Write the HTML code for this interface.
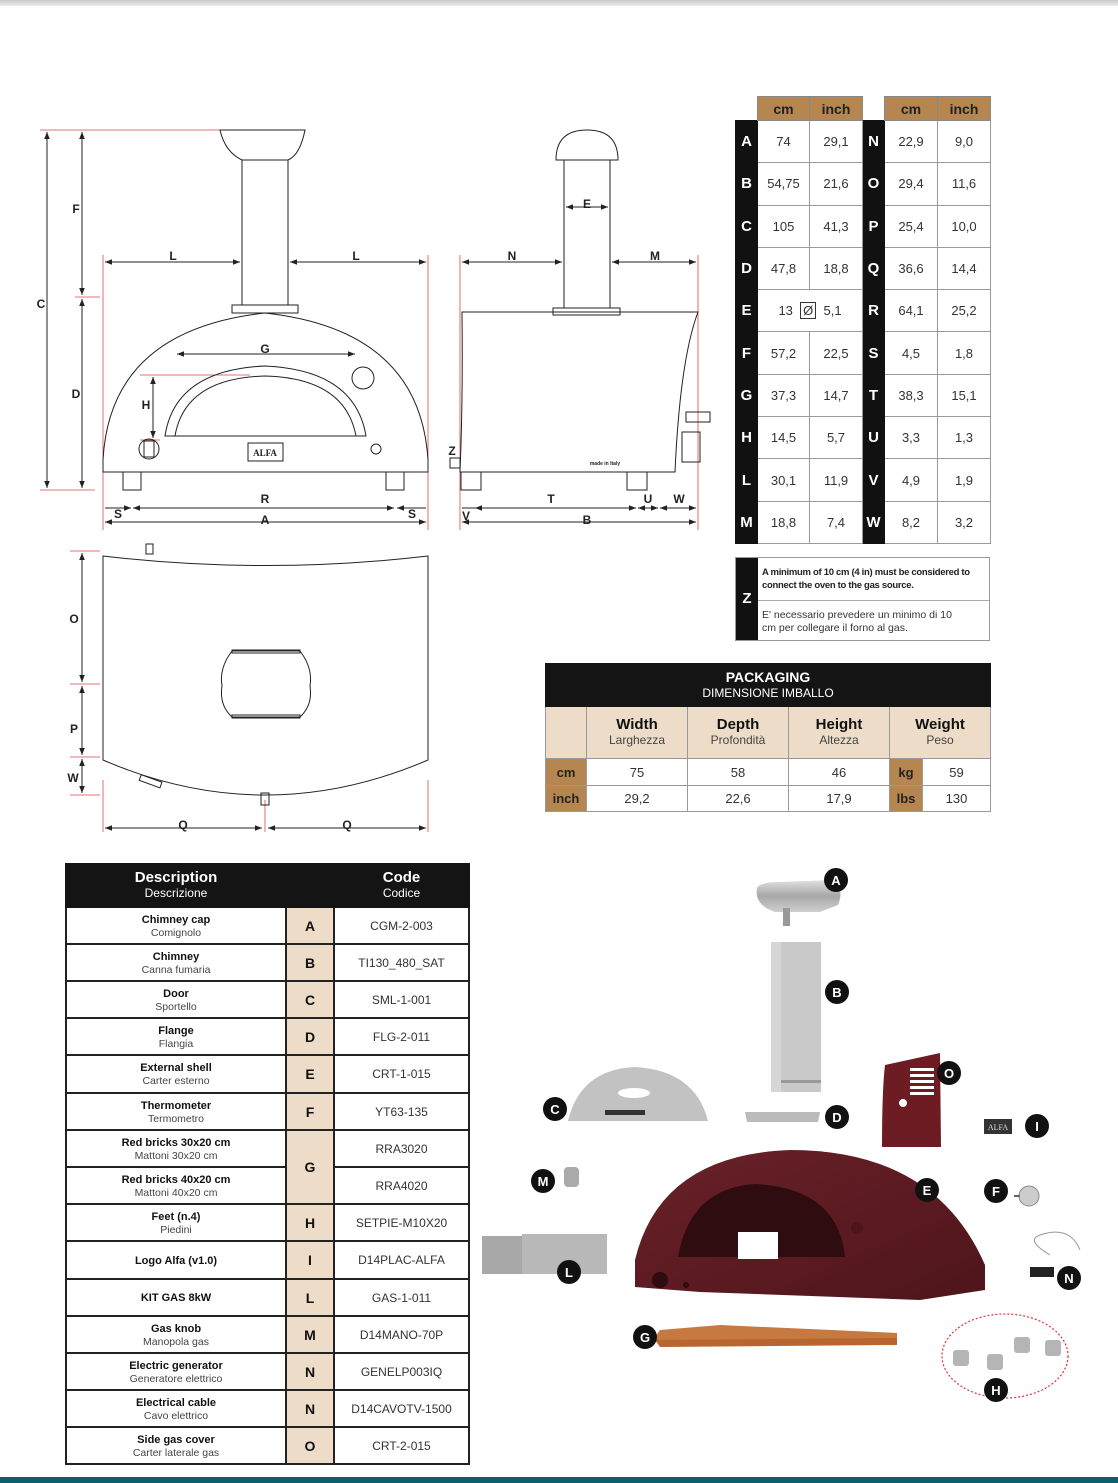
<!DOCTYPE html>
<html><head><meta charset="utf-8"><style>
*{margin:0;padding:0;box-sizing:border-box}
body{width:1118px;height:1483px;background:#fff;position:relative;overflow:hidden;font-family:"Liberation Sans","DejaVu Sans",sans-serif;color:#333}
.abs{position:absolute}
table{border-collapse:collapse;position:absolute;table-layout:fixed}
td{text-align:center;vertical-align:middle}
#dim td{border:1px solid #9a9a9a;font-size:13px;color:#333}
#dim td.l{background:#111;color:#fff;font-weight:bold;font-size:15px;border-color:#111}
#dim td.h{background:#b58650;color:#222;font-weight:bold;font-size:14px;border-color:#888}
#dim td.e{border:none;background:#fff}
#pk td{border:1px solid #999;font-size:13px}
#pk td.t{background:#141414;color:#fff;border-color:#141414;font-size:12px;line-height:15px}
#pk td.b{background:#ecdcc8;font-size:12px;color:#444;line-height:15px}
#pk td.b b{font-size:15px;color:#111}
#pk td.u{background:#b58650;font-weight:bold;color:#222}
#pt td{border:2px solid #222;font-size:12px;color:#333;line-height:12px}
#pt td.d b{font-size:11px;color:#111}
#pt td.d span{font-size:10.5px;color:#444}
#pt td.k{background:#ecdcc8;font-weight:bold;font-size:14px;color:#111}
#pt td.hd{background:#141414;color:#fff;border-color:#141414;font-size:12px;line-height:15px}
#pt td.hd b{font-size:15px}
</style></head><body>
<div class="abs" style="left:0;top:0;width:1118px;height:6px;background:linear-gradient(#c8c8cc,#eee)"></div>
<div class="abs" style="left:0;top:1477px;width:1118px;height:6px;background:#0f5d6a"></div>

<svg class="abs" style="left:0;top:0" width="1118" height="1483" viewBox="0 0 1118 1483">
<defs>
<marker id="a" viewBox="0 0 10 10" refX="10" refY="5" markerWidth="7" markerHeight="7" orient="auto-start-reverse"><path d="M0,1L10,5L0,9z" fill="#222"/></marker>
<linearGradient id="sh" x1="0" y1="0" x2="1" y2="1"><stop offset="0" stop-color="#6a2128"/><stop offset="1" stop-color="#4e151b"/></linearGradient>
<linearGradient id="cap" x1="0" y1="0" x2="0" y2="1"><stop offset="0" stop-color="#e0e0e0"/><stop offset="0.5" stop-color="#a8a8aa"/><stop offset="1" stop-color="#cfcfcf"/></linearGradient>
</defs>
<g stroke="#d44" stroke-width="0.8" fill="none">
<line x1="40" y1="130" x2="300" y2="130"/><line x1="40" y1="490" x2="95" y2="490"/><line x1="75" y1="297" x2="100" y2="297"/>
<line x1="103" y1="255" x2="103" y2="530"/><line x1="428" y1="255" x2="428" y2="530"/>
<line x1="460" y1="255" x2="460" y2="530"/><line x1="698" y1="255" x2="698" y2="530"/>
<line x1="140" y1="375" x2="250" y2="375"/><line x1="140" y1="440" x2="160" y2="440"/>
<line x1="103" y1="780" x2="103" y2="832"/><line x1="428" y1="780" x2="428" y2="832"/><line x1="265" y1="800" x2="265" y2="832"/>
<line x1="70" y1="551" x2="100" y2="551"/><line x1="70" y1="684" x2="100" y2="684"/><line x1="70" y1="757" x2="100" y2="757"/><line x1="70" y1="795" x2="100" y2="795"/>
</g>
<g stroke="#222" stroke-width="1" fill="none">
<path d="M220,130 L305,130 Q300,155 288,160 L242,160 Q225,152 220,130Z"/>
<rect x="242" y="160" width="46" height="145"/>
<rect x="232" y="305" width="66" height="8"/>
<path d="M103,472 L103,460 Q110,330 265,313 Q420,330 428,460 L428,472 Z"/>
<path d="M165,436 Q175,370 265,366 Q355,370 366,436 Z"/><path d="M175,436 Q185,378 265,376 Q345,378 356,436"/>
<circle cx="363" cy="378" r="11"/><circle cx="149" cy="449" r="10"/><rect x="144" y="441" width="10" height="16"/>
<rect x="248" y="443" width="35" height="18"/><circle cx="376" cy="449" r="5"/>
<rect x="123" y="472" width="18" height="18"/><rect x="386" y="472" width="18" height="18"/>
<line x1="47" y1="132" x2="47" y2="488" marker-start="url(#a)" marker-end="url(#a)"/>
<line x1="82" y1="132" x2="82" y2="295" marker-start="url(#a)" marker-end="url(#a)"/>
<line x1="82" y1="299" x2="82" y2="488" marker-start="url(#a)" marker-end="url(#a)"/>
<line x1="105" y1="262" x2="240" y2="262" marker-start="url(#a)" marker-end="url(#a)"/>
<line x1="290" y1="262" x2="426" y2="262" marker-start="url(#a)" marker-end="url(#a)"/>
<line x1="177" y1="354" x2="355" y2="354" marker-start="url(#a)" marker-end="url(#a)"/>
<line x1="153" y1="377" x2="153" y2="438" marker-start="url(#a)" marker-end="url(#a)"/>
<line x1="105" y1="508" x2="131" y2="508" marker-end="url(#a)"/>
<line x1="133" y1="508" x2="394" y2="508" marker-start="url(#a)" marker-end="url(#a)"/>
<line x1="397" y1="508" x2="426" y2="508" marker-start="url(#a)"/>
<line x1="105" y1="522" x2="426" y2="522" marker-start="url(#a)" marker-end="url(#a)"/>
<path d="M556,160 Q556,130 587,130 Q618,130 618,160 Z"/>
<rect x="564" y="160" width="46" height="148"/><rect x="553" y="308" width="67" height="7"/>
<path d="M462,312 L698,312 Q680,360 675,472 L460,472 Q463,400 462,312Z"/>
<rect x="686" y="412" width="24" height="10"/><rect x="682" y="432" width="18" height="30"/>
<rect x="450" y="458" width="10" height="10"/>
<rect x="461" y="472" width="20" height="18"/><rect x="627" y="472" width="20" height="18"/>
<line x1="462" y1="262" x2="562" y2="262" marker-start="url(#a)" marker-end="url(#a)"/>
<line x1="612" y1="262" x2="696" y2="262" marker-start="url(#a)" marker-end="url(#a)"/>
<line x1="566" y1="207" x2="608" y2="207" marker-start="url(#a)" marker-end="url(#a)"/>
<line x1="462" y1="508" x2="475" y2="508"/>
<line x1="475" y1="508" x2="636" y2="508" marker-start="url(#a)" marker-end="url(#a)"/>
<line x1="638" y1="508" x2="658" y2="508" marker-start="url(#a)" marker-end="url(#a)"/>
<line x1="660" y1="508" x2="696" y2="508" marker-start="url(#a)" marker-end="url(#a)"/>
<line x1="462" y1="522" x2="696" y2="522" marker-start="url(#a)" marker-end="url(#a)"/>
<path d="M103,556 Q265,575 428,556 L428,760 Q265,830 103,760 Z"/>
<rect x="146" y="544" width="7" height="10"/>
<path d="M232,651 L300,651 Q313,668 310,686 Q313,705 300,717 L232,717 Q219,705 222,686 Q219,668 232,651Z"/>
<rect x="232" y="650" width="68" height="3"/><rect x="232" y="715" width="68" height="3"/>
<rect x="261" y="793" width="8" height="12"/>
<rect x="140" y="778" width="22" height="6" transform="rotate(20 150 780)"/>
<line x1="82" y1="553" x2="82" y2="682" marker-start="url(#a)" marker-end="url(#a)"/>
<line x1="82" y1="686" x2="82" y2="755" marker-start="url(#a)" marker-end="url(#a)"/>
<line x1="82" y1="759" x2="82" y2="793" marker-start="url(#a)" marker-end="url(#a)"/>
<line x1="105" y1="828" x2="262" y2="828" marker-start="url(#a)" marker-end="url(#a)"/>
<line x1="268" y1="828" x2="426" y2="828" marker-start="url(#a)" marker-end="url(#a)"/>
</g>
<g font-family="Liberation Sans,sans-serif" font-size="12" font-weight="bold" fill="#222" text-anchor="middle">
<text x="41" y="308">C</text><text x="76" y="213">F</text><text x="76" y="398">D</text>
<text x="173" y="260">L</text><text x="356" y="260">L</text><text x="265" y="353">G</text><text x="146" y="409">H</text>
<text x="265" y="503">R</text><text x="265" y="524">A</text><text x="118" y="518">S</text><text x="412" y="518">S</text>
<text x="512" y="260">N</text><text x="655" y="260">M</text><text x="587" y="208">E</text>
<text x="551" y="503">T</text><text x="648" y="503">U</text><text x="679" y="503">W</text><text x="466" y="520">V</text><text x="587" y="524">B</text><text x="452" y="455">Z</text>
<text x="74" y="623">O</text><text x="74" y="733">P</text><text x="73" y="782">W</text><text x="183" y="829">Q</text><text x="347" y="829">Q</text>
<text x="265" y="456" font-size="9" font-family="Liberation Serif,serif">ALFA</text>
<text x="605" y="465" font-size="5">made in Italy</text>
</g>

<path d="M757,888 Q760,882 780,882 L832,880 Q845,888 838,905 L820,912 L775,912 Q754,905 757,888Z" fill="url(#cap)"/>
<rect x="783" y="908" width="7" height="18" fill="#999"/>
<rect x="771" y="942" width="50" height="150" fill="#c9c9c9"/><rect x="771" y="1080" width="50" height="3" fill="#999"/><rect x="771" y="942" width="10" height="150" fill="#d6d6d6"/>
<path d="M745,1112 L820,1112 L818,1122 L747,1122Z" fill="#bbb"/>
<path d="M568,1121 Q580,1070 634,1067 Q695,1070 708,1121Z" fill="#c2c2c2"/><ellipse cx="634" cy="1093" rx="16" ry="5" fill="#fff"/><rect x="605" y="1110" width="40" height="5" fill="#333"/>
<path d="M885,1065 L940,1053 L941,1147 L882,1147 Q882,1090 885,1065Z" fill="#6e1c24"/>
<g fill="#fff"><rect x="910" y="1068" width="24" height="3"/><rect x="910" y="1074" width="24" height="3"/><rect x="910" y="1080" width="24" height="3"/><rect x="910" y="1086" width="24" height="3"/><rect x="910" y="1092" width="24" height="3"/><circle cx="903" cy="1103" r="4"/></g>
<rect x="984" y="1119" width="28" height="15" fill="#333"/><text x="998" y="1130" fill="#ddd" font-size="8" font-family="Liberation Serif,serif" text-anchor="middle">ALFA</text>
<path d="M635,1287 L635,1260 Q660,1155 790,1150 Q935,1150 985,1265 L985,1290 L920,1300 L700,1292Z" fill="url(#sh)"/>
<path d="M678,1257 Q690,1188 755,1184 Q838,1188 845,1257Z" fill="#2e0c10"/><rect x="738" y="1232" width="40" height="27" fill="#fff"/>
<circle cx="660" cy="1280" r="8" fill="#2e0c10"/><circle cx="686" cy="1285" r="3" fill="#2e0c10"/><circle cx="857" cy="1228" r="6" fill="#4e1419"/>
<path d="M660,1330 L720,1325 L897,1333 L897,1343 L660,1345 L655,1337Z" fill="#c67a40"/><path d="M655,1340 L897,1338 L897,1345 L660,1347Z" fill="#b8652f"/>
<rect x="564" y="1167" width="15" height="20" rx="4" fill="#aaa"/>
<rect x="482" y="1236" width="48" height="38" fill="#a8a8a8"/><rect x="522" y="1234" width="85" height="40" fill="#b8b8b8"/>
<circle cx="1029" cy="1196" r="10" fill="#ccc" stroke="#888"/><line x1="1014" y1="1196" x2="1020" y2="1196" stroke="#666" stroke-width="2"/>
<path d="M1050,1255 Q1025,1240 1040,1235 Q1070,1225 1080,1250" stroke="#999" fill="none"/><rect x="1030" y="1267" width="24" height="10" fill="#222"/>
<ellipse cx="1005" cy="1356" rx="63" ry="42" fill="none" stroke="#d33" stroke-width="1.2" stroke-dasharray="2,2"/>
<g fill="#b5b5b5"><rect x="953" y="1350" width="16" height="16" rx="3"/><rect x="987" y="1354" width="16" height="16" rx="3"/><rect x="1014" y="1337" width="16" height="16" rx="3"/><rect x="1045" y="1340" width="16" height="16" rx="3"/></g>
<g fill="#111"><circle cx="836" cy="880" r="12"/><circle cx="837" cy="992" r="12"/><circle cx="555" cy="1109" r="12"/><circle cx="837" cy="1117" r="12"/><circle cx="949" cy="1073" r="12"/><circle cx="1037" cy="1126" r="12"/><circle cx="927" cy="1190" r="12"/><circle cx="996" cy="1191" r="12"/><circle cx="543" cy="1181" r="12"/><circle cx="569" cy="1272" r="12"/><circle cx="1069" cy="1278" r="12"/><circle cx="645" cy="1337" r="12"/><circle cx="996" cy="1390" r="12"/></g>
<g fill="#fff" font-size="13" font-weight="bold" text-anchor="middle" font-family="Liberation Sans,sans-serif">
<text x="836" y="885">A</text><text x="837" y="997">B</text><text x="555" y="1114">C</text><text x="837" y="1122">D</text><text x="949" y="1078">O</text><text x="1037" y="1131">I</text><text x="927" y="1195">E</text><text x="996" y="1196">F</text><text x="543" y="1186">M</text><text x="569" y="1277">L</text><text x="1069" y="1283">N</text><text x="645" y="1342">G</text><text x="996" y="1395">H</text></g>
</svg>

<table id="dim" style="left:735px;top:96px;width:255px">
<colgroup><col style="width:22px"><col style="width:52px"><col style="width:53px"><col style="width:22px"><col style="width:53px"><col style="width:53px"></colgroup>
<tr style="height:24px"><td class="e"></td><td class="h">cm</td><td class="h">inch</td><td class="e"></td><td class="h">cm</td><td class="h">inch</td></tr>
<tr style="height:42.3px"><td class="l">A</td><td>74</td><td>29,1</td><td class="l">N</td><td>22,9</td><td>9,0</td></tr>
<tr style="height:42.3px"><td class="l">B</td><td>54,75</td><td>21,6</td><td class="l">O</td><td>29,4</td><td>11,6</td></tr>
<tr style="height:42.3px"><td class="l">C</td><td>105</td><td>41,3</td><td class="l">P</td><td>25,4</td><td>10,0</td></tr>
<tr style="height:42.3px"><td class="l">D</td><td>47,8</td><td>18,8</td><td class="l">Q</td><td>36,6</td><td>14,4</td></tr>
<tr style="height:42.3px"><td class="l">E</td><td colspan="2">13 &nbsp;<span style="border:1px solid #333;padding:0 2px">Ø</span>&nbsp; 5,1</td><td class="l">R</td><td>64,1</td><td>25,2</td></tr>
<tr style="height:42.3px"><td class="l">F</td><td>57,2</td><td>22,5</td><td class="l">S</td><td>4,5</td><td>1,8</td></tr>
<tr style="height:42.3px"><td class="l">G</td><td>37,3</td><td>14,7</td><td class="l">T</td><td>38,3</td><td>15,1</td></tr>
<tr style="height:42.3px"><td class="l">H</td><td>14,5</td><td>5,7</td><td class="l">U</td><td>3,3</td><td>1,3</td></tr>
<tr style="height:42.3px"><td class="l">L</td><td>30,1</td><td>11,9</td><td class="l">V</td><td>4,9</td><td>1,9</td></tr>
<tr style="height:42.3px"><td class="l">M</td><td>18,8</td><td>7,4</td><td class="l">W</td><td>8,2</td><td>3,2</td></tr>
</table>

<div class="abs" style="left:735px;top:557px;width:255px;height:84px;border:1px solid #999">
<div class="abs" style="left:0;top:0;width:22px;height:82px;background:#111;color:#fff;font-weight:bold;font-size:15px;text-align:center;line-height:82px">Z</div>
<div class="abs" style="left:26px;top:8px;width:228px;font-size:9.5px;font-weight:bold;letter-spacing:-0.3px;line-height:13px;color:#222">A minimum of 10 cm (4 in) must be considered to connect the oven to the gas source.</div>
<div class="abs" style="left:22px;top:42px;width:231px;border-top:1px solid #aaa"></div>
<div class="abs" style="left:26px;top:51px;width:200px;font-size:10.5px;line-height:13px;color:#333">E' necessario prevedere un minimo di 10 cm per collegare il forno al gas.</div>
</div>

<table id="pk" style="left:545px;top:663px;width:445px">
<colgroup><col style="width:41px"><col style="width:101px"><col style="width:101px"><col style="width:101px"><col style="width:33px"><col style="width:68px"></colgroup>
<tr style="height:43px"><td class="t" colspan="6"><b style="font-size:14px">PACKAGING</b><br>DIMENSIONE IMBALLO</td></tr>
<tr style="height:52px"><td class="b"></td><td class="b"><b>Width</b><br>Larghezza</td><td class="b"><b>Depth</b><br>Profondità</td><td class="b"><b>Height</b><br>Altezza</td><td class="b" colspan="2"><b>Weight</b><br>Peso</td></tr>
<tr style="height:27px"><td class="u">cm</td><td>75</td><td>58</td><td>46</td><td class="u">kg</td><td>59</td></tr>
<tr style="height:26px"><td class="u">inch</td><td>29,2</td><td>22,6</td><td>17,9</td><td class="u">lbs</td><td>130</td></tr>
</table>

<table id="pt" style="left:65px;top:863px;width:403px">
<colgroup><col style="width:220px"><col style="width:48px"><col style="width:135px"></colgroup>
<tr style="height:43px"><td class="hd"><b>Description</b><br>Descrizione</td><td class="hd"></td><td class="hd"><b>Code</b><br>Codice</td></tr>
<tr style="height:37px"><td class="d"><b>Chimney cap</b><br><span>Comignolo</span></td><td class="k">A</td><td>CGM-2-003</td></tr>
<tr style="height:37px"><td class="d"><b>Chimney</b><br><span>Canna fumaria</span></td><td class="k">B</td><td>TI130_480_SAT</td></tr>
<tr style="height:37px"><td class="d"><b>Door</b><br><span>Sportello</span></td><td class="k">C</td><td>SML-1-001</td></tr>
<tr style="height:37px"><td class="d"><b>Flange</b><br><span>Flangia</span></td><td class="k">D</td><td>FLG-2-011</td></tr>
<tr style="height:38px"><td class="d"><b>External shell</b><br><span>Carter esterno</span></td><td class="k">E</td><td>CRT-1-015</td></tr>
<tr style="height:37px"><td class="d"><b>Thermometer</b><br><span>Termometro</span></td><td class="k">F</td><td>YT63-135</td></tr>
<tr style="height:37px"><td class="d"><b>Red bricks 30x20 cm</b><br><span>Mattoni 30x20 cm</span></td><td class="k" rowspan="2">G</td><td>RRA3020</td></tr>
<tr style="height:37px"><td class="d"><b>Red bricks 40x20 cm</b><br><span>Mattoni 40x20 cm</span></td><td>RRA4020</td></tr>
<tr style="height:37px"><td class="d"><b>Feet (n.4)</b><br><span>Piedini</span></td><td class="k">H</td><td>SETPIE-M10X20</td></tr>
<tr style="height:38px"><td class="d"><b>Logo Alfa (v1.0)</b></td><td class="k">I</td><td>D14PLAC-ALFA</td></tr>
<tr style="height:37px"><td class="d"><b>KIT GAS 8kW</b></td><td class="k">L</td><td>GAS-1-011</td></tr>
<tr style="height:37px"><td class="d"><b>Gas knob</b><br><span>Manopola gas</span></td><td class="k">M</td><td>D14MANO-70P</td></tr>
<tr style="height:37px"><td class="d"><b>Electric generator</b><br><span>Generatore elettrico</span></td><td class="k">N</td><td>GENELP003IQ</td></tr>
<tr style="height:37px"><td class="d"><b>Electrical cable</b><br><span>Cavo elettrico</span></td><td class="k">N</td><td>D14CAVOTV-1500</td></tr>
<tr style="height:37px"><td class="d"><b>Side gas cover</b><br><span>Carter laterale gas</span></td><td class="k">O</td><td>CRT-2-015</td></tr>
</table>
</body></html>
